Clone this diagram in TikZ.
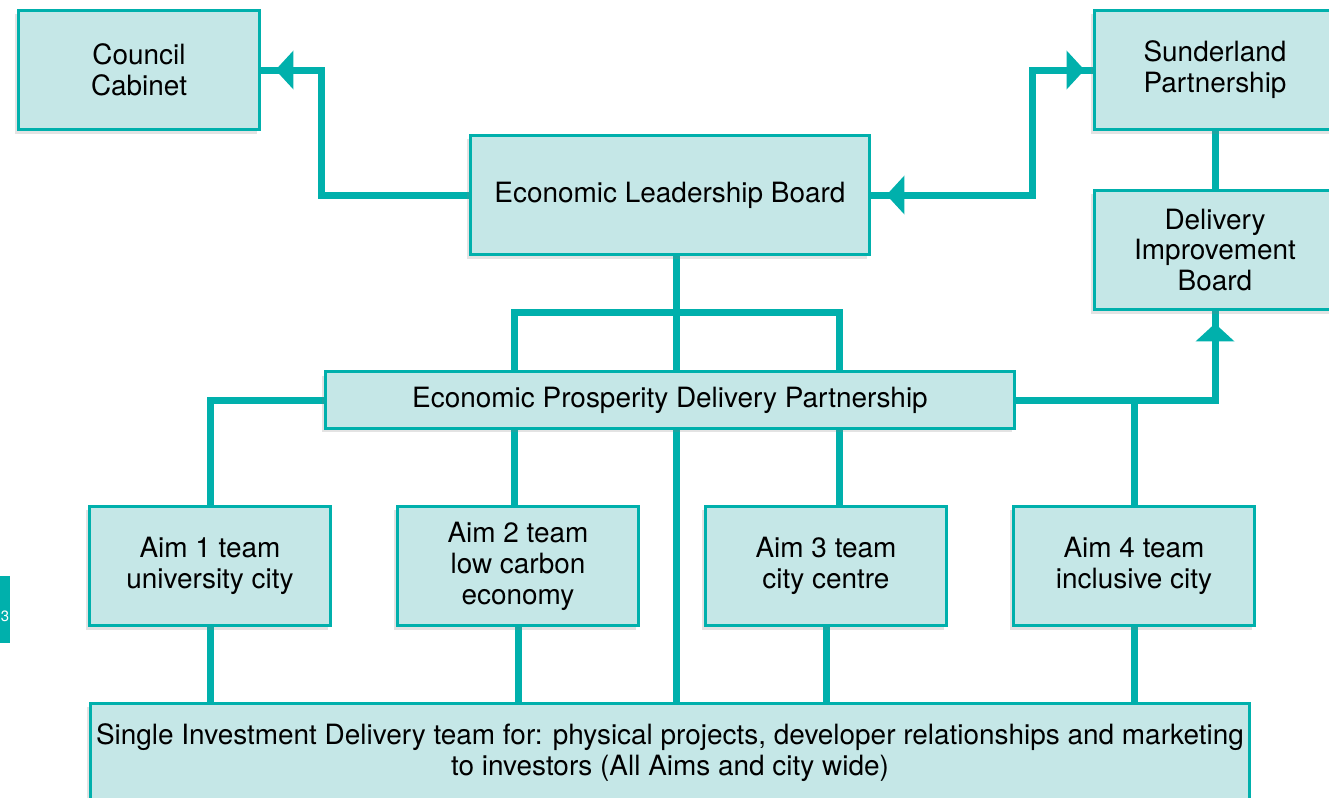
\documentclass[tikz,border=0pt]{standalone}
\usepackage{fontspec}
\setmainfont{TeX Gyre Heros}
\usetikzlibrary{arrows.meta,shadows,backgrounds}
\definecolor{sdteal}{RGB}{0,176,172}
\definecolor{sdfill}{RGB}{197,231,231}
\tikzset{
  box/.style={draw=sdteal, line width=0.06cm, fill=sdfill, align=center,
    minimum width=4.84cm, minimum height=2.4cm, inner sep=0pt,
    font=\fontsize{15.9}{17.6}\selectfont,
    drop shadow={shadow xshift=-0.06cm, shadow yshift=-0.08cm, opacity=0.22}},
  link/.style={draw=sdteal, line width=0.14cm},
}
\begin{document}
\begin{tikzpicture}[x=0.02cm, y=-0.02cm, >={Triangle[length=0.36cm,width=0.76cm]}]
  \useasboundingbox (0,0) rectangle (1329,798);
  % page tab
  \fill[sdteal] (0,576) rectangle (10,643);
  \node[text=white, inner sep=0pt, font=\fontsize{8.5}{10}\selectfont] (pg) at (5,616) {3};
  % top
  \node[box] (cc) at (139,70) {Council\\Cabinet};
  \node[box] (sp) at (1215,70) {Sunderland\\Partnership};
  \node[box, minimum width=8cm] (elb) at (670,195) {Economic Leadership Board};
  \node[box] (dib) at (1215,250) {Delivery\\Improvement\\Board};
  \node[box, minimum width=13.8cm, minimum height=1.14cm] (epdp) at (670,400)
    {Economic Prosperity Delivery Partnership};
  % aims
  \node[box] (aim1) at (210,566) {Aim 1 team\\university city};
  \node[box] (aim2) at (518,566) {Aim 2 team\\low carbon\\economy};
  \node[box] (aim3) at (826,566) {Aim 3 team\\city centre};
  \node[box] (aim4) at (1134,566) {Aim 4 team\\inclusive city};
  \node[box, minimum width=23.2cm, minimum height=2cm] (sidt) at (670,753)
    {Single Investment Delivery team for: physical projects, developer relationships and marketing\\
     to investors (All Aims and city wide)};
  \coordinate (ccbend) at (321,70);
  \coordinate (spbend) at (1032,70);
  \coordinate (spine) at (676,255);
  \coordinate (br1) at (514,312);
  \coordinate (br2) at (839,312);
  \begin{scope}[on background layer]
    \draw[link] (elb.west) -| (ccbend) -- (cc.east);
    \draw[link, ->, shorten >=0.28cm] (elb.west) -| (ccbend) -- (cc.east);
    \draw[link] (elb.east) -| (spbend) -- (sp.west);
    \draw[link, <->, shorten <=0.3cm, shorten >=0.16cm] (elb.east) -| (spbend) -- (sp.west);
    \draw[link] (sp.south) -- (dib.north);
    \draw[link] (epdp.east) -| (dib.south);
    \draw[link, ->, shorten >=0.24cm] (epdp.east) -| (dib.south);
    \draw[link] (aim4.north) -- (aim4.north |- epdp.east);
    \draw[link] (epdp.west) -| (aim1.north);
    \draw[link] (spine) -- (spine |- sidt.north);
    \draw[link] (aim2.north -| br1) |- (br2) -- (br2 |- aim3.north);
    \foreach \i in {1,...,4}
      \draw[link] (aim\i.south) -- (aim\i.south |- sidt.north);
  \end{scope}
\end{tikzpicture}
\end{document}
